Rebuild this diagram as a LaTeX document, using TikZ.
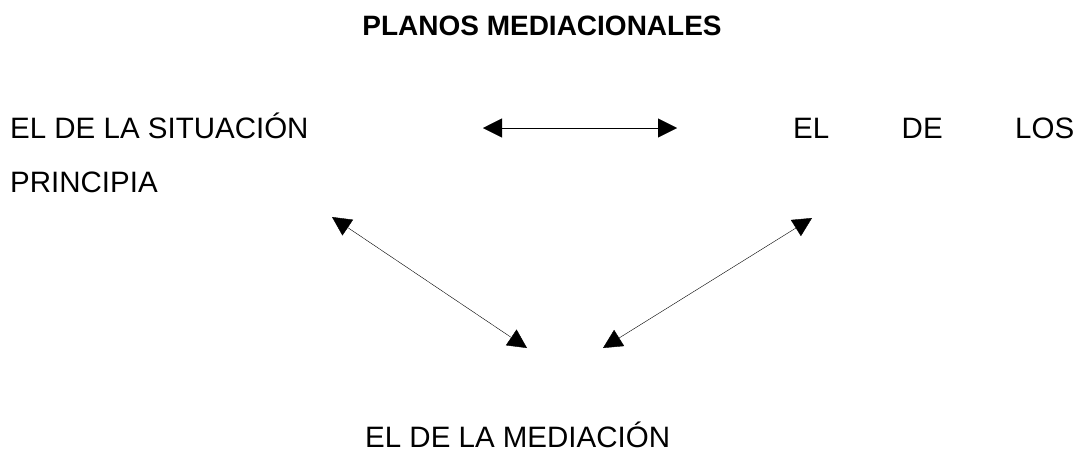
\documentclass[tikz,border=0pt]{standalone}
\usepackage{fontspec}
\setmainfont{Liberation Sans}
\usepackage{tikz}
\usetikzlibrary{arrows.meta}
\tikzset{line width=1.5pt,
        >={Triangle[length=19pt,width=19pt]},
        plano/.style={font=\fontsize{29.5}{35}\selectfont,inner sep=0pt,text depth=0pt,anchor=base west},
        titulo/.style={font=\fontsize{28}{34}\selectfont\bfseries,inner sep=0pt,anchor=base}
        }

\begin{document}
\begin{tikzpicture}[x=1pt,y=-1pt]
    % marco de la figura
    \useasboundingbox (0,0) rectangle (1083,451);
    % titulo
    \node[titulo] (tit) at (542,35) {PLANOS MEDIACIONALES};
    % los tres planos
    \node[plano] (sit) at (10,138) {EL DE LA SITUACIÓN};
    \node[plano] (pri) at (10,192) {PRINCIPIA};
    \node[plano] (los) at (793,138) {\makebox[281pt][s]{EL\hfill DE\hfill LOS}};
    \node[plano] (med) at (365,447) {EL DE LA MEDIACIÓN};
    % extremos de las flechas
    \coordinate (h-1) at (483,128);
    \coordinate (h-2) at (677,128);
    \coordinate (i-1) at (332,217);
    \coordinate (i-2) at (527,348);
    \coordinate (d-1) at (603,348);
    \coordinate (d-2) at (812,218);
    % flechas dobles entre los planos
    \draw[<->] (h-1) -- (h-2);
    \draw[<->] (i-1) -- (i-2);
    \draw[<->] (d-1) -- (d-2);
\end{tikzpicture}
\end{document}
